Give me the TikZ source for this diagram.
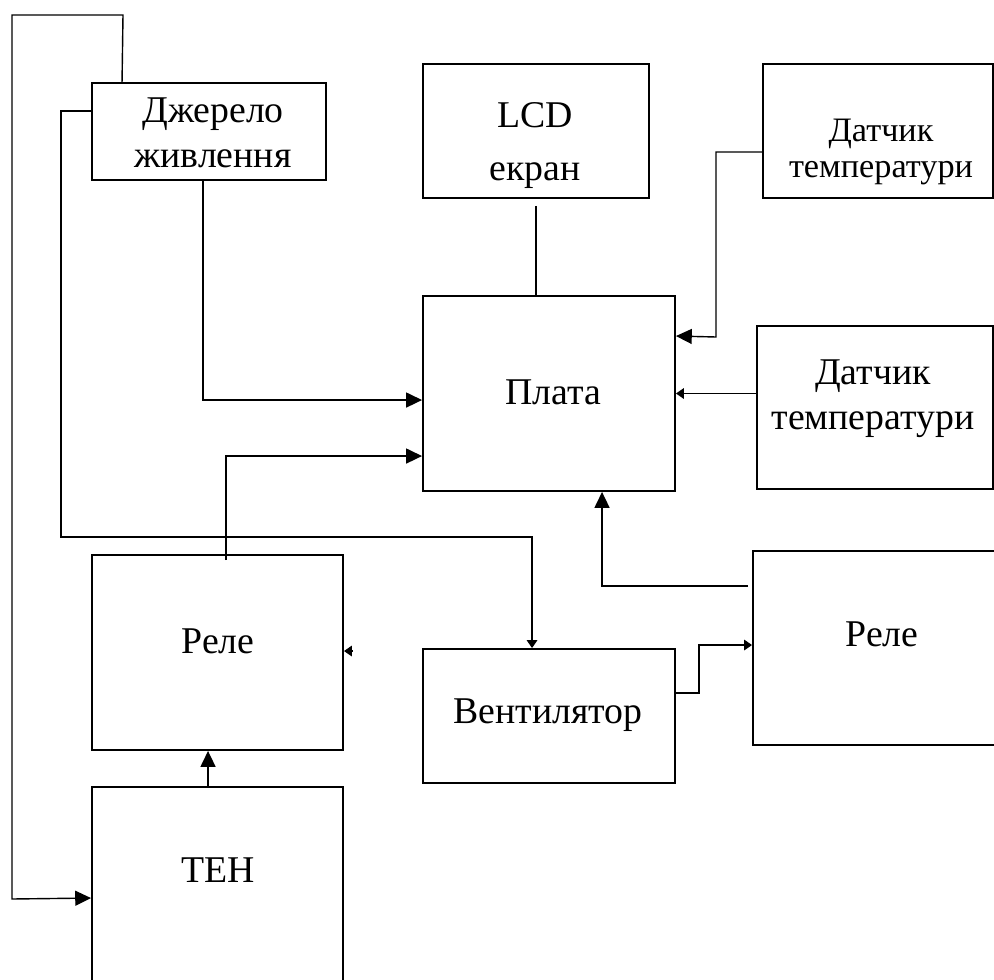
\documentclass[tikz,border=0pt]{standalone}
\usepackage{fontspec}
\setmainfont{Liberation Serif}
\usetikzlibrary{arrows.meta,positioning,calc,fit}

\tikzset{
  block/.style={draw, line width=1.1pt, inner sep=0pt},
  wire/.style={line width=0.8pt},
  arr/.style={-{Triangle[length=9pt,width=8.5pt]}},
  arrs/.style={-{Triangle[length=4.5pt,width=6pt]}},
  lbl/.style={font=\fontsize{21.5}{25.5}\selectfont, inner sep=0pt, align=center},
}

\begin{document}
\begin{tikzpicture}[x=0.02cm, y=-0.02cm]
  \useasboundingbox (0,0) rectangle (994,980);
  \clip (0,0) rectangle (994,980);

  % Blocks
  \node[block, fit={(92,83) (326,180)}] (src) {};
  \node[block, fit={(423,64) (649,198)}] (lcd) {};
  \node[block, fit={(763,64) (993,198)}] (sensA) {};
  \node[block, fit={(423,296) (675,491)}] (board) {};
  \node[block, fit={(757,326) (993,489)}] (sensB) {};
  \node[block, fit={(753,551) (1000,745)}] (relayR) {};
  \node[block, fit={(423,649) (675,783)}] (fan) {};
  \node[block, fit={(92,555) (343,750)}] (relayL) {};
  \node[block, fit={(92,787) (343,1000)}] (heater) {};

  % Labels
  \node[lbl] (srcT) at (213,133) {Джерело\\живлення};
  \node[lbl, font=\fontsize{21.5}{30.6}\selectfont] (lcdT) at (535,145.6) {LCD\\екран};
  \node[lbl, font=\fontsize{19.5}{20.4}\selectfont] (sensAT) at (881,152.4) {Датчик\\температури};
  \node[lbl] (sensBT) at (873,399) {Датчик\\температури};
  \node[lbl, anchor=base] (boardT) at (553,404) {Плата};
  \node[lbl, anchor=base] (relayRT) at (882,646) {Реле};
  \node[lbl, anchor=base] (relayLT) at (218,653) {Реле};
  \node[lbl, anchor=base] (fanT) at (548,723) {Вентилятор};
  \node[lbl, anchor=base] (heaterT) at (218,882) {ТЕН};

  % Links
  \draw[wire, arr] ($(src.north west)+(31,0)$) -- (123,15) -| (12,899) -- ($(heater.north west)+(0,112)$);
  \draw[wire, arrs] ($(src.north west)+(0,29)$) -| (61,537) -| ($(fan.north west)+(110,0)$);
  \draw[wire, arr] ($(src.south west)+(112,0)$) |- ($(board.north west)+(0,105)$);
  \draw[wire] ([yshift=-4pt]lcd.south) -- (lcd.south |- board.north);
  \draw[wire, arr] ($(sensA.north west)+(0,89)$) -| (716,337) -- ($(board.north east)+(0,41)$);
  \draw[wire, arrs] (sensB.west |- board.east) -- (board.east);
  \draw[wire, arr] ($(relayR.north west)+(-4,36)$) -| ($(board.south west)+(180,0)$);
  \draw[wire, arrs] ($(fan.north east)+(0,45)$) -- ++(23,0) |- ($(relayR.north west)+(0,95)$);
  \draw[wire, arr] ($(relayL.north west)+(135,6)$) |- ($(board.north west)+(0,161)$);
  \draw[wire, arrs] ($(relayL.north east)+(8,97)$) -- ($(relayL.north east)+(0,97)$);
  \draw[wire, arr] ($(heater.north west)+(117,0)$) -- ($(relayL.south west)+(117,0)$);
\end{tikzpicture}
\end{document}
